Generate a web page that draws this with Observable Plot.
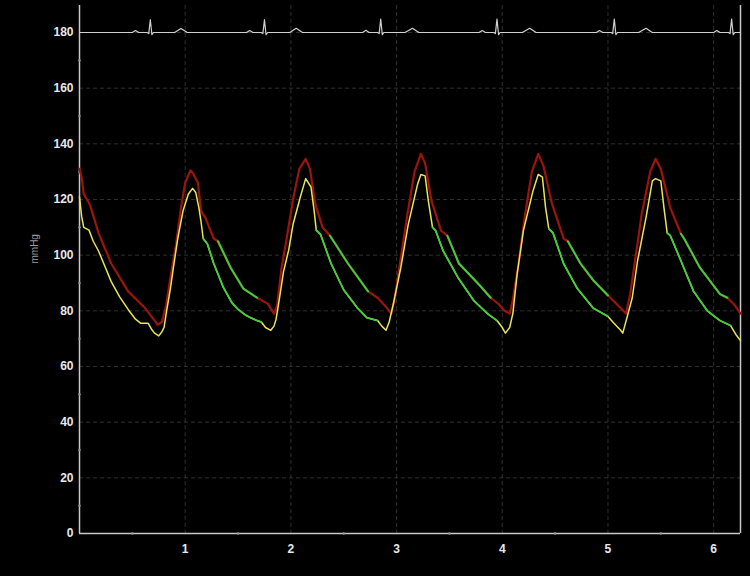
<!DOCTYPE html>
<html>
<head>
<meta charset="utf-8">
<script src="https://cdn.jsdelivr.net/npm/d3@7"></script>
<script src="https://cdn.jsdelivr.net/npm/@observablehq/plot@0.6"></script>
<style>
  html, body { margin: 0; padding: 0; background: #000; }
  #chart { width: 750px; height: 576px; overflow: hidden; }
</style>
</head>
<body>
<div id="chart"></div>
<script>
// ---- data ----
const yTicks = [0, 20, 40, 60, 80, 100, 120, 140, 160, 180];
const yMinor = [10, 30, 50, 70, 90, 110, 130, 150, 170];
const xTicks = [1, 2, 3, 4, 5, 6];
const xMinor = [0.5, 1.5, 2.5, 3.5, 4.5, 5.5];
const xMax = 6.254;
const yMax = 189.7;
const yLabel = "mmHg";

// ECG trace (top)
const ecgX = [0, 0.50, 0.53, 0.56, 0.64, 0.655, 0.67, 0.685, 0.70, 0.90, 0.96, 1.02,
  1.58, 1.61, 1.64, 1.72, 1.735, 1.75, 1.765, 1.78, 1.99, 2.05, 2.11,
  2.68, 2.71, 2.74, 2.82, 2.835, 2.85, 2.865, 2.88, 3.08, 3.15, 3.21,
  3.78, 3.81, 3.84, 3.92, 3.935, 3.95, 3.965, 3.98, 4.19, 4.26, 4.32,
  4.89, 4.92, 4.95, 5.03, 5.045, 5.06, 5.075, 5.09, 5.29, 5.36, 5.42,
  6.00, 6.03, 6.06, 6.14, 6.155, 6.17, 6.185, 6.20, 6.254];
const ecgY = [180, 180, 180.7, 180, 180, 179.6, 184.6, 179.2, 180, 180, 181.4, 180,
  180, 180.7, 180, 180, 179.6, 184.6, 179.2, 180, 180, 181.5, 180,
  180, 180.8, 180, 180, 179.6, 184.8, 179.2, 180, 180, 181.5, 180,
  180, 180.7, 180, 180, 179.6, 184.8, 179.2, 180, 180, 181.5, 180,
  180, 180.7, 180, 180, 179.6, 184.8, 179.2, 180, 180, 181.5, 180,
  180, 180.7, 180, 180, 179.6, 184.8, 179.2, 180, 180];

// Upper pressure trace (red)
const upperX = [0.00, 0.02, 0.04, 0.07, 0.10, 0.18, 0.30, 0.46, 0.62, 0.70, 0.74, 0.78, 0.82, 0.86, 0.91, 0.96,
  1.00, 1.05, 1.08, 1.12, 1.15, 1.19, 1.27, 1.31, 1.43, 1.55, 1.68, 1.78, 1.84, 1.87, 1.91, 1.96,
  2.02, 2.08, 2.14, 2.18, 2.23, 2.30, 2.37, 2.54, 2.73, 2.82, 2.91, 2.95, 2.98,
  3.04, 3.10, 3.17, 3.23, 3.27, 3.33, 3.42, 3.48, 3.59, 3.79, 3.89, 3.96, 4.02, 4.07, 4.10,
  4.15, 4.21, 4.28, 4.34, 4.39, 4.47, 4.58, 4.62, 4.74, 4.86, 5.00, 5.12, 5.17, 5.21,
  5.26, 5.32, 5.40, 5.45, 5.50, 5.59, 5.69, 5.72, 5.87, 6.06, 6.13, 6.20, 6.254];
const upperY = [131, 128, 122, 120, 118, 108, 97, 87, 81, 77, 75, 76, 82, 92, 103, 117,
  126, 130.5, 129, 126, 116, 113.5, 106, 105, 95.5, 88, 84.7, 82.6, 79, 82, 95, 106,
  120, 131, 134.6, 131, 118.5, 110, 107, 97, 87, 84.7, 81, 79, 84,
  99, 114, 130, 136.4, 133, 119.6, 108.8, 107, 97, 89, 84.7, 82.6, 80, 79, 84,
  96, 113, 130, 136.4, 132, 118.5, 106, 105, 97, 91, 85.5, 81, 79, 86,
  99, 115, 130, 134.6, 131, 117, 107.7, 106, 95.5, 86, 84.7, 82, 79];

// Lower pressure trace (yellow)
const lowerX = [0.00, 0.02, 0.04, 0.09, 0.13, 0.18, 0.24, 0.30, 0.38, 0.46, 0.53, 0.58, 0.65, 0.68, 0.71, 0.75,
  0.78, 0.80, 0.82, 0.86, 0.89, 0.93, 0.98, 1.03, 1.07, 1.10, 1.13, 1.15, 1.17, 1.21, 1.27, 1.36,
  1.44, 1.50, 1.57, 1.62, 1.68, 1.72, 1.76, 1.81, 1.84, 1.86, 1.89, 1.93, 1.98, 2.02, 2.09, 2.14,
  2.19, 2.22, 2.24, 2.28, 2.38, 2.50, 2.63, 2.72, 2.82, 2.86, 2.90, 2.93, 2.97, 3.04, 3.11, 3.20,
  3.23, 3.27, 3.30, 3.34, 3.37, 3.44, 3.58, 3.73, 3.86, 3.95, 4.00, 4.03, 4.07, 4.10, 4.14, 4.20,
  4.29, 4.34, 4.38, 4.41, 4.44, 4.48, 4.58, 4.71, 4.86, 5.00, 5.05, 5.12, 5.14, 5.18, 5.23, 5.28,
  5.36, 5.42, 5.45, 5.50, 5.53, 5.56, 5.59, 5.69, 5.81, 5.94, 6.06, 6.16, 6.21, 6.254];
const lowerY = [121, 114, 110, 109, 105, 101.5, 96, 90.5, 85, 80.5, 77, 75.5, 75.5, 73.5, 72, 71,
  72.5, 74, 79, 88, 96, 106, 116, 122, 124, 122.5, 117, 112, 106, 104, 97, 88.5,
  83, 80.5, 78.5, 77.5, 76.5, 76, 74, 73, 74.5, 77, 84, 94, 102, 111, 121, 127.5,
  124.5, 116, 109, 107.5, 97, 87.5, 81, 77.5, 76.5, 74.5, 73, 76, 82.6, 95.5, 111, 125.7,
  129, 128.5, 119.6, 110, 108.8, 101.6, 92, 83.7, 79, 76.5, 74, 72, 74, 79, 93, 108.8,
  123, 129, 128, 117, 109.5, 108, 97, 88, 81, 78, 75.8, 73, 72, 77.6, 84.7, 98,
  113.5, 126.7, 127.5, 126.7, 117, 108, 107, 98, 87, 80, 76.5, 74.7, 71.5, 69.3];

// Green (diastolic decay) segments: [start, end] x ranges
const upperGreen = [[1.31, 1.68], [2.37, 2.73], [3.48, 3.89], [4.62, 5.00], [5.69, 6.13]];
const lowerGreen = [[1.17, 1.72], [2.24, 2.82], [3.34, 3.95], [4.44, 5.00], [5.56, 6.16]];

// ---- build tables ----
const ecg = ecgX.map((x, i) => ({x, y: ecgY[i]}));
const upper = upperX.map((x, i) => ({x, y: upperY[i]}));
const lower = lowerX.map((x, i) => ({x, y: lowerY[i]}));
const segIndex = (ranges, x) => ranges.findIndex(([a, b]) => x >= a - 1e-9 && x <= b + 1e-9);
const upperG = upper.map(d => ({...d, s: segIndex(upperGreen, d.x)})).filter(d => d.s >= 0);
const lowerG = lower.map(d => ({...d, s: segIndex(lowerGreen, d.x)})).filter(d => d.s >= 0);

const font = "'Liberation Sans', Arial, sans-serif";
const chart = Plot.plot({
  width: 750,
  height: 576,
  marginLeft: 79,
  marginRight: 10,
  marginTop: 5,
  marginBottom: 43,
  style: {background: "#000", color: "#e8e8e8", fontFamily: font, overflow: "visible"},
  x: {domain: [0, xMax]},
  y: {domain: [0, yMax]},
  marks: [
    Plot.gridY(yTicks.slice(1), {stroke: "#555", strokeOpacity: 0.55, strokeDasharray: "4,3"}),
    Plot.gridX(xTicks, {stroke: "#555", strokeOpacity: 0.55, strokeDasharray: "4,3"}),
    Plot.axisY(yTicks, {tickSize: 0, tickPadding: 6, fontSize: 12, fontWeight: "bold", label: null}),
    Plot.axisX(xTicks, {tickSize: 0, tickPadding: 11, fontSize: 12, fontWeight: "bold", label: null}),
    Plot.ruleY([0], {stroke: "#c8c8c8", strokeWidth: 1.5}),
    Plot.ruleX([0], {stroke: "#c8c8c8", strokeWidth: 1.5}),
    Plot.ruleX([xMax], {stroke: "#c8c8c8", strokeWidth: 1.5}),
    Plot.dot(yMinor, {y: d => d, frameAnchor: "left", r: 1.2, fill: "#999", stroke: null}),
    Plot.dot(xMinor, {x: d => d, frameAnchor: "bottom", r: 1.2, fill: "#999", stroke: null}),
    Plot.text([yLabel], {text: d => d, y: () => 97, frameAnchor: "left", dx: -45, rotate: -90, fontSize: 10, fill: "#9a9a9a"}),
    Plot.line(ecg, {x: "x", y: "y", stroke: "#d0d0d0", strokeWidth: 1.2, curve: "linear"}),
    Plot.line(upper, {x: "x", y: "y", stroke: "#9c140e", strokeWidth: 2.2, curve: "linear"}),
    Plot.line(lower, {x: "x", y: "y", stroke: "#e8e458", strokeWidth: 1.5, curve: "linear"}),
    Plot.line(upperG, {x: "x", y: "y", z: "s", stroke: "#3ccf3c", strokeWidth: 2, curve: "linear"}),
    Plot.line(lowerG, {x: "x", y: "y", z: "s", stroke: "#3ccf3c", strokeWidth: 1.7, curve: "linear"})
  ]
});
document.getElementById("chart").appendChild(chart);
</script>
</body>
</html>
